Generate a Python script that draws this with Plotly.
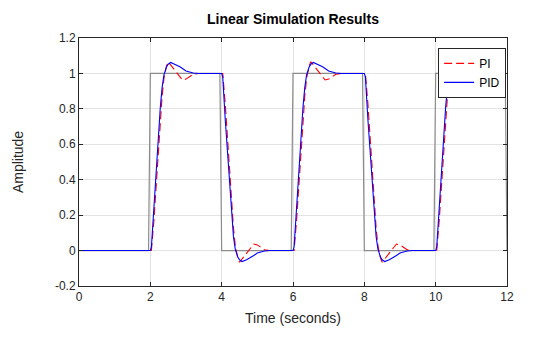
import plotly.graph_objects as go

# ---- data ----
input_t = [0, 1.95, 2, 3.95, 4, 5.95, 6, 7.95, 8, 9.95, 10, 11.95, 12]
input_u = [0, 0, 1, 1, 0, 0, 1, 1, 0, 0, 1, 1, 0]

resp_t = [0,
          2, 2.03, 2.1, 2.2, 2.28, 2.33, 2.38, 2.45, 2.5, 2.57, 2.7, 2.83, 2.9, 3.0, 3.2, 3.35,
          4, 4.03, 4.1, 4.2, 4.28, 4.33, 4.38, 4.45, 4.5, 4.57, 4.7, 4.83, 4.9, 5.0, 5.2, 5.35,
          6, 6.03, 6.1, 6.2, 6.28, 6.33, 6.38, 6.45, 6.5, 6.57, 6.7, 6.83, 6.9, 7.0, 7.2, 7.35,
          8, 8.03, 8.1, 8.2, 8.28, 8.33, 8.38, 8.45, 8.5, 8.57, 8.7, 8.83, 8.9, 9.0, 9.2, 9.35,
          10, 10.03, 10.1, 10.2, 10.28, 10.33, 10.38, 10.45, 10.5, 10.57, 10.7, 10.83, 10.9, 11.0, 11.2, 11.35,
          12]

pid_y = [0,
         0, 0.02, 0.26, 0.57, 0.81, 0.92, 0.99, 1.035, 1.052, 1.062, 1.052, 1.038, 1.028, 1.014, 1.002, 1.0,
         1, 0.98, 0.74, 0.43, 0.19, 0.08, 0.01, -0.035, -0.052, -0.062, -0.052, -0.038, -0.028, -0.014, -0.002, 0,
         0, 0.02, 0.26, 0.57, 0.81, 0.92, 0.99, 1.035, 1.052, 1.062, 1.052, 1.038, 1.028, 1.014, 1.002, 1.0,
         1, 0.98, 0.74, 0.43, 0.19, 0.08, 0.01, -0.035, -0.052, -0.062, -0.052, -0.038, -0.028, -0.014, -0.002, 0,
         0, 0.02, 0.26, 0.57, 0.81, 0.92, 0.99, 1.035, 1.052, 1.062, 1.052, 1.038, 1.028, 1.014, 1.002, 1.0,
         1.0]

pi_y = [0,
        0, 0.0, 0.17, 0.49, 0.74, 0.87, 0.97, 1.04, 1.066, 1.048, 1.014, 0.981, 0.963, 0.968, 0.995, 1.0,
        1, 1.0, 0.83, 0.51, 0.26, 0.13, 0.03, -0.04, -0.066, -0.048, -0.014, 0.019, 0.037, 0.032, 0.005, 0,
        0, 0.0, 0.17, 0.49, 0.74, 0.87, 0.97, 1.04, 1.066, 1.048, 1.014, 0.981, 0.963, 0.968, 0.995, 1.0,
        1, 1.0, 0.83, 0.51, 0.26, 0.13, 0.03, -0.04, -0.066, -0.048, -0.014, 0.019, 0.037, 0.032, 0.005, 0,
        0, 0.0, 0.17, 0.49, 0.74, 0.87, 0.97, 1.04, 1.066, 1.048, 1.014, 0.981, 0.963, 0.968, 0.995, 1.0,
        1.0]

x_ticks = [0, 2, 4, 6, 8, 10, 12]
x_labels = ["0", "2", "4", "6", "8", "10", "12"]
y_ticks = [-0.2, 0, 0.2, 0.4, 0.6, 0.8, 1, 1.2]
y_labels = ["-0.2", "0", "0.2", "0.4", "0.6", "0.8", "1", "1.2"]

FONT = "Liberation Sans, Arial, Helvetica, sans-serif"
AXC = "#262626"

fig = go.Figure()
fig.add_trace(go.Scatter(x=input_t, y=input_u, mode="lines",
                         line=dict(color="#8c8c8c", width=1.2),
                         showlegend=False, hoverinfo="skip"))
fig.add_trace(go.Scatter(x=resp_t, y=pi_y, mode="lines", name="PI",
                         line=dict(color="#ff0000", width=1.1, dash="8px,4px")))
fig.add_trace(go.Scatter(x=resp_t, y=pid_y, mode="lines", name="PID",
                         line=dict(color="#0000ff", width=1.1)))

axis_common = dict(showline=True, linecolor=AXC, linewidth=1, mirror="ticks",
                   ticks="inside", ticklen=4, tickcolor=AXC,
                   showgrid=True, gridcolor="#e3e3e3", gridwidth=1,
                   zeroline=False, tickfont=dict(family=FONT, size=12, color=AXC))

fig.update_xaxes(range=[0, 12], tickvals=x_ticks, ticktext=x_labels,
                 title=dict(text="Time (seconds)", font=dict(family=FONT, size=14, color=AXC),
                            standoff=9),
                 **axis_common)
fig.update_yaxes(range=[-0.2, 1.2], tickvals=y_ticks, ticktext=y_labels,
                 title=dict(text="Amplitude", font=dict(family=FONT, size=14, color=AXC),
                            standoff=28),
                 **axis_common)

fig.update_layout(
    width=560, height=337,
    margin=dict(l=79, r=53, t=38, b=51),
    paper_bgcolor="white", plot_bgcolor="white",
    title=dict(text="<b>Linear Simulation Results</b>", x=293 / 560, xanchor="center",
               y=1 - 19 / 337, yanchor="middle",
               font=dict(family=FONT, size=14, color="#000000")),
    legend=dict(x=0.998, xanchor="right", y=0.96, yanchor="top",
                bgcolor="white", bordercolor=AXC, borderwidth=1,
                font=dict(family=FONT, size=12, color="#000000"),
                tracegroupgap=0, itemwidth=30),
    showlegend=True,
)

fig.write_html("out.html")
